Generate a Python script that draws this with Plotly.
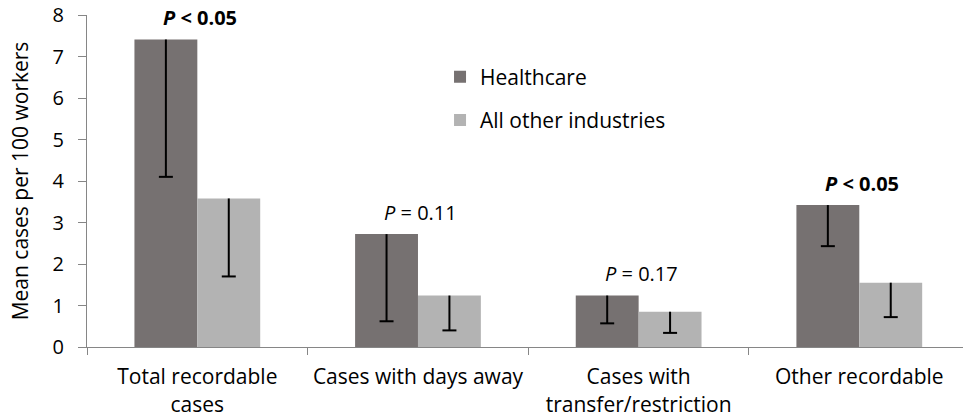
import plotly.graph_objects as go

categories = ["Total recordable<br>cases", "Cases with days away",
              "Cases with<br>transfer/restriction", "Other recordable"]
healthcare = [7.41, 2.72, 1.24, 3.42]
healthcare_low = [4.10, 0.62, 0.57, 2.43]
other = [3.58, 1.24, 0.85, 1.55]
other_low = [1.70, 0.40, 0.34, 0.72]
p_labels = ["<b><i>P</i> &lt; 0.05</b>", "<i>P</i> = 0.11",
            "<i>P</i> = 0.17", "<b><i>P</i> &lt; 0.05</b>"]
y_ticks = [0, 1, 2, 3, 4, 5, 6, 7, 8]

C_H = "#767171"
C_O = "#b3b3b3"
FONT = "Open Sans"

fig = go.Figure()

for name, vals, lows, col, grp in [("Healthcare", healthcare, healthcare_low, C_H, "h"),
                                   ("All other industries", other, other_low, C_O, "o")]:
    fig.add_trace(go.Bar(
        x=categories, y=vals, name=name, marker=dict(color=col, line=dict(width=0)),
        offsetgroup=grp, legendgroup=grp,
        error_y=dict(type="data", symmetric=False,
                     array=[0] * len(vals),
                     arrayminus=[v - l for v, l in zip(vals, lows)],
                     color="black", thickness=2, width=0),
    ))
    fig.add_trace(go.Scatter(
        x=categories, y=lows, mode="markers", offsetgroup=grp, showlegend=False,
        marker=dict(symbol="line-ew", size=10, color="black",
                    line=dict(color="black", width=2)),
        hoverinfo="skip",
    ))

for cat, v, txt in zip(categories, healthcare, p_labels):
    fig.add_annotation(x=cat, y=v + 0.15, text=txt, showarrow=False,
                       yanchor="bottom", xanchor="center", xshift=3,
                       font=dict(family=FONT, size=20, color="black"))

fig.update_layout(
    width=963, height=419,
    margin=dict(l=87, r=0, t=15, b=72),
    paper_bgcolor="white", plot_bgcolor="white",
    barmode="group", bargap=0.43, bargroupgap=0,
    scattermode="group", scattergap=0.43,
    font=dict(family=FONT, size=21, color="black"),
    showlegend=True,
    legend=dict(x=0.403, y=0.875, xanchor="left", yanchor="top",
                traceorder="grouped", tracegroupgap=13,
                font=dict(family=FONT, size=21, color="black"),
                bgcolor="rgba(0,0,0,0)"),
)
fig.update_xaxes(
    type="category", range=[-0.5, 3.47],
    showline=True, linecolor="#868686", linewidth=1,
    ticks="outside", ticklen=7, tickcolor="#868686", tickson="boundaries",
    showgrid=False, zeroline=False, ticklabelstandoff=11,
    tickfont=dict(family=FONT, size=21, color="black"),
)
fig.update_yaxes(
    range=[0, 8], tickvals=y_ticks,
    showline=True, linecolor="#868686", linewidth=1,
    ticks="outside", ticklen=8, tickcolor="#868686",
    showgrid=False, zeroline=False, ticklabelstandoff=10,
    tickfont=dict(family=FONT, size=20, color="black"),
    title=dict(text="Mean cases per 100 workers", standoff=18,
               font=dict(family=FONT, size=21, color="black")),
)

fig.write_html("out.html", config={"displayModeBar": False},
               post_script="document.body.style.margin='0';")
